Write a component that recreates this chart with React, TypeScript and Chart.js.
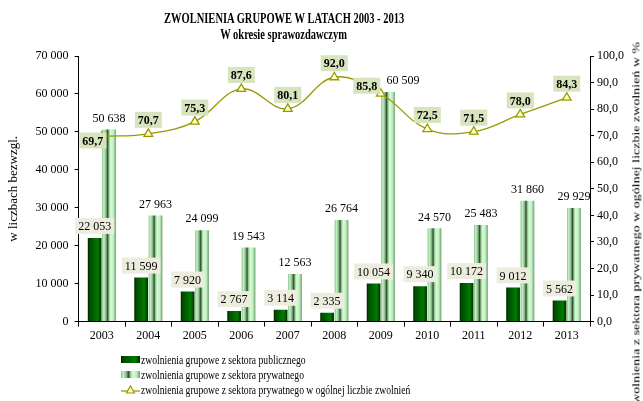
import React, { useEffect, useRef } from 'react';
import Chart from 'chart.js/auto';

const YEARS = ['2003', '2004', '2005', '2006', '2007', '2008', '2009', '2010', '2011', '2012', '2013'];
const PUBLIC_SECTOR = [22053, 11599, 7920, 2767, 3114, 2335, 10054, 9340, 10172, 9012, 5562];
const PRIVATE_SECTOR = [50638, 27963, 24099, 19543, 12563, 26764, 60509, 24570, 25483, 31860, 29929];
const PRIVATE_SHARE = [69.7, 70.7, 75.3, 87.6, 80.1, 92.0, 85.8, 72.5, 71.5, 78.0, 84.3];

const TITLE = 'ZWOLNIENIA GRUPOWE W LATACH 2003 - 2013';
const SUBTITLE = 'W okresie sprawozdawczym';
const LEFT_AXIS_TITLE = 'w liczbach bezwzgl.';
const RIGHT_AXIS_TITLE = 'zwolnienia z sektora  prywatnego w ogólnej liczbie zwolnień w %';
const LEGEND_PUBLIC = 'zwolnienia grupowe z sektora publicznego';
const LEGEND_PRIVATE = 'zwolnienia grupowe z sektora prywatnego';
const LEGEND_SHARE = 'zwolnienia grupowe z sektora prywatnego w ogólnej liczbie zwolnień';

const FONT = "'Liberation Serif', 'Times New Roman', serif";
const OLIVE = '#999900';

const PUBLIC_STOPS: [number, string][] = [
  [0, '#001f00'], [0.12, '#004a00'], [0.45, '#006400'], [0.72, '#007c00'], [0.9, '#004d00'], [1, '#001c00'],
];
const PRIVATE_STOPS: [number, string][] = [
  [0, '#7dbd7d'], [0.12, '#c8f4c8'], [0.28, '#86b886'], [0.4, '#2e4e2e'], [0.5, '#97c897'], [0.62, '#d4ffd4'], [0.82, '#c0eec0'], [1, '#6a9a6a'],
];

const fmtThousands = (v: number) => String(Math.round(v)).replace(/\B(?=(\d{3})+(?!\d))/g, ' ');
const fmtPercent = (v: number) => v.toFixed(1).replace('.', ',');

const cssGrad = (stops: [number, string][]) =>
  'linear-gradient(to right, ' + stops.map(([p, c]) => `${c} ${Math.round(p * 100)}%`).join(', ') + ')';

const gradientPlugin = {
  id: 'barGradients',
  beforeDatasetsDraw(chart: any) {
    const ctx = chart.ctx;
    chart.data.datasets.forEach((ds: any, di: number) => {
      if (ds.type !== 'bar') return;
      const stops = di === 1 ? PUBLIC_STOPS : PRIVATE_STOPS;
      chart.getDatasetMeta(di).data.forEach((el: any) => {
        const g = ctx.createLinearGradient(el.x - el.width / 2, 0, el.x + el.width / 2, 0);
        stops.forEach(([p, c]) => g.addColorStop(p, c));
        el.options.backgroundColor = g;
      });
    });
  },
};

const drawBox = (ctx: CanvasRenderingContext2D, text: string, cx: number, cy: number, bg: string | null, bold: boolean) => {
  ctx.font = `${bold ? 'bold ' : ''}12px ${FONT}`;
  const w = ctx.measureText(text).width;
  if (bg) {
    ctx.fillStyle = bg;
    ctx.fillRect(cx - w / 2 - 3, cy - 8, w + 6, 16);
  }
  ctx.fillStyle = '#000';
  ctx.textAlign = 'center';
  ctx.textBaseline = 'middle';
  ctx.fillText(text, cx, cy + 1);
};

const labelPlugin = {
  id: 'valueLabels',
  afterDatasetsDraw(chart: any) {
    const ctx = chart.ctx;
    ctx.save();
    const pub = chart.getDatasetMeta(1).data;
    pub.forEach((el: any, i: number) => {
      drawBox(ctx, fmtThousands(PUBLIC_SECTOR[i]), el.x, el.y - 12, '#ededdf', false);
    });
    const priv = chart.getDatasetMeta(2).data;
    priv.forEach((el: any, i: number) => {
      const dx = i === 6 ? 15 : 0;
      drawBox(ctx, fmtThousands(PRIVATE_SECTOR[i]), el.x + dx, el.y - 12, null, false);
    });
    const shift: Record<number, [number, number]> = { 0: [-9, 4], 6: [-14, -8] };
    const line = chart.getDatasetMeta(0).data;
    line.forEach((el: any, i: number) => {
      const [dx, dy] = shift[i] || [0, -14];
      drawBox(ctx, fmtPercent(PRIVATE_SHARE[i]), el.x + dx, el.y + dy, '#d7e4bd', true);
    });
    ctx.restore();
  },
};

export default function App() {
  const ref = useRef<HTMLCanvasElement | null>(null);

  useEffect(() => {
    document.body.style.margin = '0';
    const canvas = ref.current!;
    const chart = new Chart(canvas, {
      data: {
        labels: YEARS,
        datasets: [
          {
            type: 'line',
            label: LEGEND_SHARE,
            data: PRIVATE_SHARE,
            yAxisID: 'y1',
            order: 0,
            borderColor: OLIVE,
            borderWidth: 1.3,
            tension: 0.4,
            pointStyle: 'triangle',
            pointRadius: 5,
            pointBackgroundColor: '#ffffc8',
            pointBorderColor: OLIVE,
            pointBorderWidth: 1.3,
          } as any,
          {
            type: 'bar',
            label: LEGEND_PUBLIC,
            data: PUBLIC_SECTOR,
            yAxisID: 'y',
            order: 1,
            backgroundColor: () => '#006400',
            categoryPercentage: 0.62,
            barPercentage: 0.95,
          } as any,
          {
            type: 'bar',
            label: LEGEND_PRIVATE,
            data: PRIVATE_SECTOR,
            yAxisID: 'y',
            order: 1,
            backgroundColor: () => '#c8f4c8',
            categoryPercentage: 0.62,
            barPercentage: 0.95,
          } as any,
        ],
      },
      options: {
        responsive: false,
        animation: false,
        layout: { padding: { top: 56, left: 2, right: 16, bottom: 56 } },
        plugins: {
          legend: { display: false },
          tooltip: { enabled: false },
          title: { display: false },
        },
        scales: {
          x: {
            grid: { offset: true, drawOnChartArea: false, drawTicks: true, tickLength: 5, color: '#000' },
            border: { color: '#000', width: 1 },
            ticks: { color: '#000', font: { family: FONT, size: 12 }, padding: 2 },
          },
          y: {
            position: 'left',
            min: 0,
            max: 70000,
            grid: { drawOnChartArea: false, tickLength: 4, color: '#000' },
            border: { color: '#000', width: 1 },
            ticks: {
              stepSize: 10000,
              color: '#000',
              font: { family: FONT, size: 12 },
              padding: 6,
              callback: (v: any) => fmtThousands(Number(v)),
            },
            title: {
              display: true,
              text: LEFT_AXIS_TITLE,
              color: '#000',
              font: { family: FONT, size: 13 },
              padding: { top: 4, bottom: 8 },
            },
          },
          y1: {
            position: 'right',
            min: 0,
            max: 100,
            grid: { drawOnChartArea: false, tickLength: 4, color: '#000' },
            border: { color: '#000', width: 1 },
            ticks: {
              stepSize: 10,
              color: '#000',
              font: { family: FONT, size: 12 },
              padding: 3,
              callback: (v: any) => fmtPercent(Number(v)),
            },
          },
        },
      },
      plugins: [gradientPlugin, labelPlugin],
    });
    return () => chart.destroy();
  }, []);

  const textBase: React.CSSProperties = {
    position: 'absolute',
    fontFamily: FONT,
    color: '#000',
    whiteSpace: 'nowrap',
  };

  const legendRow = (top: number, swatch: React.ReactNode, text: string) => (
    <div style={{ position: 'absolute', left: 121, top, height: 15, display: 'flex', alignItems: 'center' }}>
      <div style={{ width: 19, height: 15, display: 'flex', alignItems: 'center', justifyContent: 'center' }}>{swatch}</div>
      <span
        style={{
          fontFamily: FONT,
          fontSize: 13,
          marginLeft: 1,
          display: 'inline-block',
          transform: 'scaleX(0.74)',
          transformOrigin: 'left center',
          whiteSpace: 'nowrap',
        }}
      >
        {text}
      </span>
    </div>
  );

  return (
    <div style={{ position: 'fixed', left: 0, top: 0, width: 643, height: 401, background: '#fff', overflow: 'hidden' }}>
      <canvas ref={ref} width={643} height={401} style={{ position: 'absolute', left: 0, top: 0 }} />
      <div style={{ ...textBase, left: 0, width: 568, top: 11, textAlign: 'center', fontWeight: 'bold', fontSize: 14, lineHeight: '15px' }}>
        <div style={{ display: 'inline-block', transform: 'scaleX(0.75)' }}>{TITLE}</div>
      </div>
      <div style={{ ...textBase, left: 0, width: 568, top: 27, textAlign: 'center', fontWeight: 'bold', fontSize: 14, lineHeight: '15px' }}>
        <div style={{ display: 'inline-block', transform: 'scaleX(0.75)' }}>{SUBTITLE}</div>
      </div>
      <div
        style={{
          ...textBase,
          left: 628,
          top: 42,
          fontSize: 14,
          writingMode: 'vertical-rl',
          transform: 'rotate(180deg) scaleX(0.8)',
        }}
      >
        {RIGHT_AXIS_TITLE}
      </div>
      {legendRow(352, <div style={{ width: 19, height: 7, background: cssGrad(PUBLIC_STOPS) }} />, LEGEND_PUBLIC)}
      {legendRow(367, <div style={{ width: 19, height: 7, background: cssGrad(PRIVATE_STOPS) }} />, LEGEND_PRIVATE)}
      {legendRow(
        382,
        <svg width={19} height={11}>
          <line x1={0} y1={7} x2={19} y2={7} stroke={OLIVE} strokeWidth={1.3} />
          <polygon points="9.5,2 13.5,9 5.5,9" fill="#ffffc8" stroke={OLIVE} strokeWidth={1.2} />
        </svg>,
        LEGEND_SHARE
      )}
    </div>
  );
}
